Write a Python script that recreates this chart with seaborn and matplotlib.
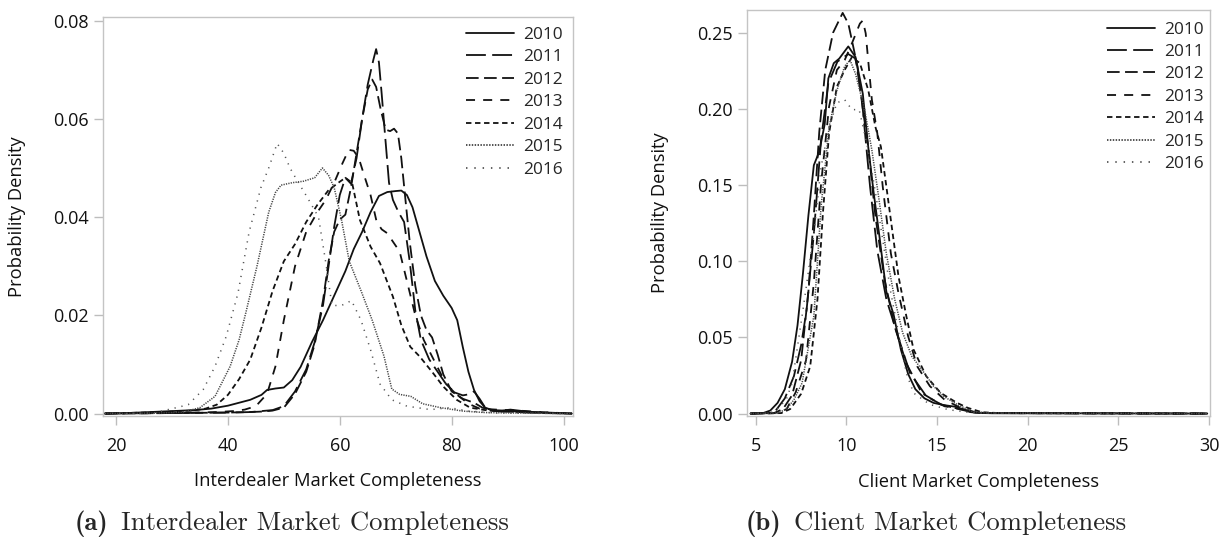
import numpy as np
import pandas as pd
import matplotlib
matplotlib.use("Agg")
import matplotlib.pyplot as plt
from matplotlib.ticker import FormatStrFormatter
import seaborn as sns

# ---------------- data ----------------
years = ["2010", "2011", "2012", "2013", "2014", "2015", "2016"]

# Left panel: Interdealer Market Completeness
id_x_2010 = [18, 22, 26, 30, 34, 37, 40, 42, 44, 46, 47, 48.5, 50, 51.5, 53, 55, 57, 59, 61, 62.5, 64, 65.5, 67, 68.5, 70, 71, 72, 73, 74, 75.5, 77, 78.5, 80, 81, 82, 83, 84, 85, 86, 87.5, 89, 90.5, 92, 95, 98, 101.5]
id_y_2010 = [0, 0.0001, 0.0003, 0.0005, 0.0007, 0.001, 0.0016, 0.0022, 0.0028, 0.0038, 0.0048, 0.0051, 0.0053, 0.0068, 0.0095, 0.0145, 0.019, 0.024, 0.029, 0.0335, 0.037, 0.041, 0.0443, 0.0451, 0.0453, 0.0454, 0.0445, 0.042, 0.038, 0.032, 0.027, 0.024, 0.0215, 0.019, 0.0135, 0.0085, 0.0048, 0.0025, 0.0012, 0.0006, 0.0006, 0.0008, 0.0006, 0.0002, 0.0001, 0]
id_x_2011 = [18, 30, 40, 44, 46, 48, 50, 52, 54, 55.5, 57, 58, 59, 60, 61, 62, 63, 64, 65, 66, 66.5, 67, 67.5, 68, 68.8, 69.5, 70.5, 71.5, 72.5, 73.5, 74.5, 76, 77.5, 79, 80.5, 82, 83, 84, 85, 86, 87, 89, 92, 96, 101.5]
id_y_2011 = [0, 0.0001, 0.0002, 0.0003, 0.0005, 0.0007, 0.0015, 0.0045, 0.009, 0.0145, 0.022, 0.03, 0.038, 0.0445, 0.048, 0.0468, 0.052, 0.06, 0.067, 0.072, 0.0742, 0.0715, 0.065, 0.058, 0.047, 0.0435, 0.041, 0.039, 0.031, 0.021, 0.015, 0.011, 0.0085, 0.006, 0.0043, 0.0037, 0.0039, 0.0045, 0.003, 0.0012, 0.0006, 0.0004, 0.0003, 0.0001, 0]
id_x_2012 = [18, 30, 40, 44, 46, 48, 50, 52, 54, 55.5, 57, 58, 59, 60, 61, 62, 63, 64, 65, 65.8, 66.5, 67.3, 68.2, 69, 69.7, 70.4, 71, 71.7, 72.5, 73.5, 74.5, 75.5, 76.5, 77.5, 78.5, 80, 82, 84, 85.5, 87, 90, 95, 101.5]
id_y_2012 = [0, 0.0001, 0.0002, 0.0003, 0.0004, 0.0006, 0.0012, 0.004, 0.0085, 0.014, 0.023, 0.031, 0.037, 0.0395, 0.0405, 0.046, 0.053, 0.06, 0.066, 0.068, 0.0665, 0.062, 0.0578, 0.0575, 0.058, 0.057, 0.052, 0.044, 0.035, 0.026, 0.02, 0.017, 0.0155, 0.012, 0.008, 0.0045, 0.003, 0.0022, 0.0012, 0.0007, 0.0005, 0.0003, 0]
id_x_2013 = [18, 30, 38, 41, 43, 45, 47, 48.5, 50, 52, 54, 56, 57.5, 59, 60.5, 61.6, 62.5, 63.4, 64.5, 65.5, 66.6, 67.5, 68.5, 69.5, 70.7, 72, 73.5, 75, 77, 79, 81, 83, 85, 88, 92, 96, 101.5]
id_y_2013 = [0, 0.0001, 0.0003, 0.0005, 0.0008, 0.0015, 0.004, 0.0096, 0.019, 0.030, 0.037, 0.041, 0.0435, 0.047, 0.051, 0.0537, 0.0535, 0.052, 0.048, 0.0445, 0.039, 0.0375, 0.0367, 0.035, 0.033, 0.027, 0.02, 0.015, 0.0105, 0.006, 0.0038, 0.002, 0.001, 0.0008, 0.0006, 0.0003, 0]
id_x_2014 = [18, 25, 30, 33.5, 36, 38, 40, 42, 44, 46, 48, 50, 52, 54, 56, 58, 60, 61, 62.2, 63.6, 65.5, 67.2, 69.5, 71, 72.6, 74.3, 76.7, 78.5, 80.9, 83.3, 86, 90, 95, 101.5]
id_y_2014 = [0, 0.0002, 0.0004, 0.0006, 0.001, 0.0018, 0.0038, 0.007, 0.011, 0.0175, 0.025, 0.031, 0.0345, 0.039, 0.0425, 0.0455, 0.0472, 0.048, 0.047, 0.0394, 0.034, 0.0306, 0.0238, 0.018, 0.0136, 0.0116, 0.0082, 0.0055, 0.0028, 0.0012, 0.0007, 0.0004, 0.0002, 0]
id_x_2015 = [18, 28, 32, 35, 37.7, 40.4, 42, 43.2, 45.2, 47.3, 48.5, 49.5, 51.5, 53.5, 55.5, 56.9, 58, 59, 60.3, 61.7, 63.8, 65.8, 67.9, 69.3, 70.7, 72.7, 74.8, 78, 82, 86, 92, 101.5]
id_y_2015 = [0, 0.0001, 0.0003, 0.0012, 0.0035, 0.0096, 0.015, 0.0205, 0.030, 0.041, 0.045, 0.0465, 0.047, 0.0473, 0.048, 0.050, 0.0485, 0.046, 0.0395, 0.031, 0.025, 0.019, 0.0117, 0.005, 0.0039, 0.0035, 0.002, 0.0012, 0.0005, 0.0002, 0.0001, 0]
id_x_2016 = [18, 26.7, 30.8, 32.9, 35.6, 37.7, 39.7, 41.8, 43.8, 45.9, 47.3, 48.8, 50, 51.1, 52.1, 54.2, 56.2, 57.6, 58.6, 60.3, 62.1, 63.8, 65.5, 67.2, 69.3, 72, 76.2, 79.6, 83, 88, 101.5]
id_y_2016 = [0, 0.0001, 0.0012, 0.0018, 0.0049, 0.0096, 0.0157, 0.0245, 0.037, 0.046, 0.050, 0.055, 0.053, 0.050, 0.048, 0.044, 0.040, 0.030, 0.022, 0.022, 0.023, 0.019, 0.013, 0.006, 0.0028, 0.0015, 0.0008, 0.0012, 0.0005, 0.0001, 0]

# Right panel: Client Market Completeness
cl_x_2010 = [4.7, 5.4, 5.8, 6.2, 6.6, 7.0, 7.3, 7.6, 7.9, 8.2, 8.5, 8.8, 9.0, 9.3, 9.6, 10.1, 10.5, 10.9, 11.2, 11.5, 11.8, 12.2, 12.6, 13.0, 13.4, 13.8, 14.3, 14.8, 15.4, 16.0, 16.4, 16.8, 17.3, 18, 20, 25, 29.9]
cl_y_2010 = [0, 0.0003, 0.002, 0.007, 0.016, 0.034, 0.058, 0.092, 0.13, 0.163, 0.172, 0.19, 0.22, 0.23, 0.233, 0.241, 0.234, 0.21, 0.175, 0.145, 0.118, 0.08, 0.065, 0.042, 0.026, 0.016, 0.01, 0.007, 0.0055, 0.0045, 0.003, 0.001, 0.0004, 0.0002, 0.0002, 0.0001, 0]
cl_x_2011 = [4.7, 5.8, 6.1, 6.6, 7.1, 7.5, 7.8, 8.2, 8.6, 9.0, 9.5, 10.1, 10.5, 10.85, 11.3, 11.7, 12.2, 12.9, 13.5, 14.4, 15.4, 16.5, 17.1, 18, 22, 29.9]
cl_y_2011 = [0, 0.0003, 0.002, 0.01, 0.0245, 0.045, 0.068, 0.118, 0.18, 0.217, 0.231, 0.236, 0.233, 0.206, 0.149, 0.107, 0.075, 0.0485, 0.0267, 0.0114, 0.0048, 0.0026, 0.0006, 0.0003, 0.0002, 0]
cl_x_2012 = [4.7, 6.0, 6.5, 7.0, 7.5, 7.9, 8.2, 8.5, 8.83, 9.26, 9.79, 10.1, 10.3, 10.6, 10.9, 11.2, 11.6, 12.1, 12.66, 13.3, 14.15, 15.2, 16.3, 17.1, 18, 22, 29.9]
cl_y_2012 = [0, 0.0003, 0.003, 0.012, 0.035, 0.08, 0.13, 0.185, 0.2255, 0.25, 0.263, 0.256, 0.245, 0.228, 0.2, 0.175, 0.129, 0.088, 0.057, 0.033, 0.0135, 0.006, 0.0026, 0.0006, 0.0003, 0.0002, 0]
cl_x_2013 = [4.7, 6.2, 6.7, 7.2, 7.77, 8.2, 8.6, 9.04, 9.47, 9.9, 10.3, 10.74, 10.9, 11.06, 11.4, 11.7, 12.0, 12.45, 12.87, 13.4, 13.9, 14.6, 15.4, 16.3, 17.1, 18, 22, 29.9]
cl_y_2013 = [0, 0.0003, 0.003, 0.014, 0.035, 0.086, 0.151, 0.2015, 0.2255, 0.232, 0.243, 0.256, 0.258, 0.2496, 0.206, 0.184, 0.149, 0.105, 0.079, 0.0507, 0.031, 0.018, 0.0092, 0.0037, 0.0009, 0.0003, 0.0002, 0]
cl_x_2014 = [4.7, 6.4, 6.9, 7.5, 8.0, 8.4, 8.7, 9.04, 9.47, 9.9, 10.3, 10.74, 11.2, 11.6, 11.9, 12.2, 12.55, 12.87, 13.3, 13.7, 14.4, 15.2, 16.1, 16.7, 17.5, 18.5, 22, 29.9]
cl_y_2014 = [0, 0.0003, 0.003, 0.013, 0.031, 0.075, 0.1315, 0.184, 0.2146, 0.2255, 0.234, 0.23, 0.2124, 0.188, 0.175, 0.149, 0.118, 0.09, 0.064, 0.042, 0.0245, 0.0135, 0.007, 0.0037, 0.0008, 0.0003, 0.0002, 0]
cl_x_2015 = [4.7, 6.2, 6.7, 7.1, 7.55, 8.2, 8.6, 9.04, 9.47, 9.9, 10.2, 10.5, 11.0, 11.4, 11.8, 12.2, 12.66, 13.1, 13.6, 14.15, 14.8, 15.4, 16.1, 16.9, 17.6, 19, 24, 29.9]
cl_y_2015 = [0, 0.0003, 0.003, 0.009, 0.02, 0.064, 0.136, 0.188, 0.212, 0.228, 0.232, 0.223, 0.1995, 0.173, 0.14, 0.105, 0.075, 0.053, 0.0376, 0.029, 0.018, 0.011, 0.006, 0.0015, 0.0005, 0.0003, 0.0002, 0]
cl_x_2016 = [4.7, 5.8, 6.3, 6.7, 7.0, 7.55, 8.2, 8.6, 9.04, 9.47, 9.9, 10.3, 10.7, 11.2, 11.6, 12.0, 12.45, 12.87, 13.3, 13.7, 14.6, 15.6, 16.7, 17.5, 20, 29.9]
cl_y_2016 = [0, 0.0003, 0.004, 0.01, 0.02, 0.064, 0.118, 0.162, 0.188, 0.204, 0.206, 0.1995, 0.1995, 0.173, 0.145, 0.114, 0.079, 0.053, 0.0267, 0.0135, 0.006, 0.0026, 0.0008, 0.0003, 0.0002, 0]

left_xticks = [20, 40, 60, 80, 100]
left_yticks = [0.00, 0.02, 0.04, 0.06, 0.08]
right_xticks = [5, 10, 15, 20, 25, 30]
right_yticks = [0.00, 0.05, 0.10, 0.15, 0.20, 0.25]

left_xlabel = "Interdealer Market Completeness"
right_xlabel = "Client Market Completeness"
ylabel = "Probability Density"
caption_a = ("(a)", "Interdealer Market Completeness")
caption_b = ("(b)", "Client Market Completeness")

# ---------------- styling ----------------
sns.set_theme(style="white")
plt.rcParams["font.family"] = ["Open Sans", "DejaVu Sans"]

line_styles = {
    "2010": dict(ls="-", lw=1.3, color="#111111"),
    "2011": dict(ls=(0, (11, 3.5)), lw=1.3, color="#111111"),
    "2012": dict(ls=(0, (7, 3)), lw=1.3, color="#111111"),
    "2013": dict(ls=(0, (5, 4.5)), lw=1.3, color="#111111"),
    "2014": dict(ls=(0, (3, 2)), lw=1.3, color="#111111"),
    "2015": dict(ls=(0, (0.8, 0.8)), lw=1.1, color="#444444"),
    "2016": dict(ls=(0, (0.8, 3.8)), lw=1.1, color="#555555"),
}

left_series = {
    "2010": (id_x_2010, id_y_2010), "2011": (id_x_2011, id_y_2011),
    "2012": (id_x_2012, id_y_2012), "2013": (id_x_2013, id_y_2013),
    "2014": (id_x_2014, id_y_2014), "2015": (id_x_2015, id_y_2015),
    "2016": (id_x_2016, id_y_2016),
}
right_series = {
    "2010": (cl_x_2010, cl_y_2010), "2011": (cl_x_2011, cl_y_2011),
    "2012": (cl_x_2012, cl_y_2012), "2013": (cl_x_2013, cl_y_2013),
    "2014": (cl_x_2014, cl_y_2014), "2015": (cl_x_2015, cl_y_2015),
    "2016": (cl_x_2016, cl_y_2016),
}

W, H = 1225, 543
fig = plt.figure(figsize=(W / 100, H / 100), dpi=100)

def px_axes(l, t, r, b):
    return fig.add_axes([l / W, 1 - b / H, (r - l) / W, (b - t) / H])

ax_l = px_axes(102.7, 16.7, 572.7, 416)
ax_r = px_axes(747.3, 10, 1210, 416)

TICK_FS = 13.0
LABEL_FS = 13.2
LEG_FS = 12.4

def draw_panel(ax, series, xlim, ylim, xticks, yticks, xlabel, leg_px):
    for yr in years:
        xs, ys = series[yr]
        df = pd.DataFrame({"x": xs, "density": ys})
        st = line_styles[yr]
        sns.lineplot(data=df, x="x", y="density", ax=ax, estimator=None,
                     errorbar=None, label=yr, color=st["color"],
                     linewidth=st["lw"], linestyle=st["ls"])
    ax.set_xlim(*xlim)
    ax.set_ylim(*ylim)
    ax.set_xticks(xticks)
    ax.set_yticks(yticks)
    ax.yaxis.set_major_formatter(FormatStrFormatter("%.2f"))
    ax.xaxis.set_major_formatter(FormatStrFormatter("%d"))
    for s in ax.spines.values():
        s.set_visible(True)
        s.set_color("#c4c4c4")
        s.set_linewidth(1.0)
    ax.tick_params(axis="both", which="major", direction="out", length=6.3,
                   width=1.0, color="#bdbdbd", labelsize=TICK_FS,
                   labelcolor="#111111", bottom=True, left=True,
                   top=False, right=False)
    ax.tick_params(axis="x", pad=9.0)
    ax.tick_params(axis="y", pad=4.0)
    ax.set_xlabel(xlabel, fontsize=LABEL_FS, color="#111111", va="center")
    ax.set_ylabel(ylabel, fontsize=LABEL_FS, color="#111111", va="center")
    ax.xaxis.set_label_coords(0.5, -0.162)
    ax.grid(False)
    ax.set_facecolor("white")
    leg = ax.legend(loc="upper right",
                    bbox_to_anchor=(leg_px[0] / W, 1 - leg_px[1] / H),
                    bbox_transform=fig.transFigure,
                    frameon=False, fontsize=LEG_FS, handlelength=2.75,
                    handletextpad=0.55, labelspacing=0.37, borderpad=0,
                    borderaxespad=0)
    for h in leg.get_lines():
        h.set_linewidth(1.3)

draw_panel(ax_l, left_series, (17.62, 101.64), (-0.0005, 0.0808),
           left_xticks, left_yticks, left_xlabel, (563, 27))
ax_l.yaxis.set_label_coords((17 - 102.7) / 470.0, 0.5)

draw_panel(ax_r, right_series, (4.53, 30.05), (-0.0016, 0.2649),
           right_xticks, right_yticks, right_xlabel, (1204, 21.5))
ax_r.yaxis.set_label_coords((660 - 747.3) / 462.7, 0.5)

# captions (serif, bold sub-figure letter)
CAP_FS = 19.2
cap_y = 1 - 530 / H
ta = fig.text(75 / W, cap_y, caption_a[0], fontfamily="cmb10", fontsize=CAP_FS, va="baseline")
tb = fig.text(746 / W, cap_y, caption_b[0], fontfamily="cmb10", fontsize=CAP_FS, va="baseline")
fig.canvas.draw()
r = fig.canvas.get_renderer()
ea = ta.get_window_extent(r)
eb = tb.get_window_extent(r)
gap = 12
fig.text((ea.x1 + gap) / W, cap_y, caption_a[1], fontfamily="cmr10", fontsize=CAP_FS, va="baseline")
fig.text((eb.x1 + gap) / W, cap_y, caption_b[1], fontfamily="cmr10", fontsize=CAP_FS, va="baseline")

fig.savefig("out.png", dpi=100, facecolor="white")
